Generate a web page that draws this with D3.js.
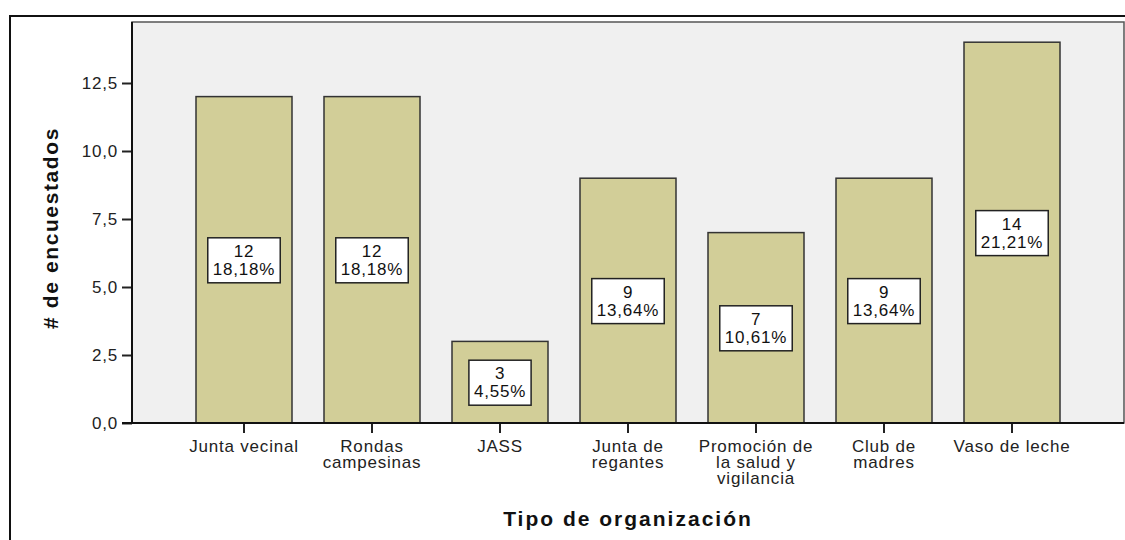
<!DOCTYPE html>
<html>
<head>
<meta charset="utf-8">
<script src="https://cdn.jsdelivr.net/npm/d3@7"></script>
<style>
  body { margin: 0; background: #fff; }
  svg { display: block; font-family: "Liberation Sans", Arial, sans-serif; }
</style>
</head>
<body>
<div id="chart"></div>
<script>
var width = 1125;
var height = 540;

// data
var categories = ["Junta vecinal", "Rondas campesinas", "JASS", "Junta de regantes",
    "Promoción de la salud y vigilancia", "Club de madres", "Vaso de leche"];
var tickLines = [["Junta vecinal"], ["Rondas", "campesinas"], ["JASS"], ["Junta de", "regantes"],
    ["Promoción de", "la salud y", "vigilancia"], ["Club de", "madres"], ["Vaso de leche"]];
var counts = [12, 12, 3, 9, 7, 9, 14];
var percents = ["18,18%", "18,18%", "4,55%", "13,64%", "10,61%", "13,64%", "21,21%"];
var yTicks = [0, 2.5, 5, 7.5, 10, 12.5];

var plot = { left: 132, top: 22, right: 1124, bottom: 423 };

var svg = d3.select("#chart").append("svg")
    .attr("width", width)
    .attr("height", height);

// outer frame (left and top edges visible)
svg.append("path")
    .attr("d", "M10,541V16H1126")
    .attr("fill", "none")
    .attr("stroke", "#111")
    .attr("stroke-width", 2);

var x = d3.scaleBand()
    .domain(categories)
    .range([plot.left, plot.right])
    .paddingInner(0.25)
    .paddingOuter(0.5);

var y = d3.scaleLinear()
    .domain([0, (plot.bottom - plot.top) / 27.2])
    .range([plot.bottom, plot.top]);

// plot background
svg.append("rect")
    .attr("x", plot.left)
    .attr("y", plot.top)
    .attr("width", plot.right - plot.left)
    .attr("height", plot.bottom - plot.top)
    .attr("fill", "#f0f0f0")
    .attr("stroke", "#555")
    .attr("stroke-width", 1.5);

// bars
svg.append("g").selectAll("rect")
    .data(categories)
    .enter().append("rect")
    .attr("x", function (d) { return x(d); })
    .attr("y", function (d, i) { return y(counts[i]); })
    .attr("width", x.bandwidth())
    .attr("height", function (d, i) { return y(0) - y(counts[i]); })
    .attr("fill", "#d2ce98")
    .attr("stroke", "#333")
    .attr("stroke-width", 1.5);

// y axis
var fmt = d3.format(".1f");
var yAxis = svg.append("g")
    .attr("transform", "translate(" + plot.left + ",0)")
    .call(d3.axisLeft(y).tickValues(yTicks).tickSize(10).tickPadding(4)
        .tickFormat(function (d) { return fmt(d).replace(".", ","); }));
yAxis.select(".domain").remove();
yAxis.selectAll("line").attr("stroke", "#222").attr("stroke-width", 2);
yAxis.selectAll("text")
    .attr("fill", "#222")
    .style("font-size", "17px")
    .style("letter-spacing", "0.8px")
    .style("font-family", "Liberation Sans, Arial, sans-serif");

// x axis
var xAxis = svg.append("g")
    .attr("transform", "translate(0," + plot.bottom + ")")
    .call(d3.axisBottom(x).tickSize(10).tickFormat(""));
xAxis.select(".domain").remove();
xAxis.selectAll("line").attr("stroke", "#222").attr("stroke-width", 2);

// axis lines on top of the frame
svg.append("line")
    .attr("x1", plot.left).attr("x2", plot.left)
    .attr("y1", plot.top).attr("y2", plot.bottom + 1)
    .attr("stroke", "#111").attr("stroke-width", 2);
svg.append("line")
    .attr("x1", plot.left - 10).attr("x2", plot.right)
    .attr("y1", plot.bottom).attr("y2", plot.bottom)
    .attr("stroke", "#111").attr("stroke-width", 2);

// category labels
var catLabels = svg.append("g").selectAll("text")
    .data(categories)
    .enter().append("text")
    .attr("text-anchor", "middle")
    .attr("fill", "#222")
    .style("font-size", "17px")
    .style("letter-spacing", "0.8px");
catLabels.each(function (d, i) {
    var t = d3.select(this);
    tickLines[i].forEach(function (line, j) {
        t.append("tspan")
            .attr("x", x(d) + x.bandwidth() / 2)
            .attr("y", 452 + j * 16)
            .text(line);
    });
});

// value boxes
var boxes = svg.append("g").selectAll("g")
    .data(categories)
    .enter().append("g")
    .attr("transform", function (d, i) {
        return "translate(" + (x(d) + x.bandwidth() / 2) + "," + y(counts[i] / 2) + ")";
    });
boxes.each(function (d, i) {
    var g = d3.select(this);
    var rect = g.append("rect");
    var t1 = g.append("text").attr("y", -3).text(counts[i]);
    var t2 = g.append("text").attr("y", 15).text(percents[i]);
    g.selectAll("text")
        .attr("text-anchor", "middle")
        .attr("fill", "#111")
        .style("font-size", "17px")
        .style("letter-spacing", "0.8px");
    var w = Math.max(t1.node().getComputedTextLength(), t2.node().getComputedTextLength()) + 10;
    rect.attr("x", -w / 2)
        .attr("y", -22)
        .attr("width", w)
        .attr("height", 45)
        .attr("fill", "#fff")
        .attr("stroke", "#222")
        .attr("stroke-width", 1.5);
});

// axis titles
svg.append("text")
    .attr("transform", "translate(58,228) rotate(-90)")
    .attr("text-anchor", "middle")
    .attr("fill", "#111")
    .style("font-size", "21px")
    .style("font-weight", "bold")
    .style("letter-spacing", "1.6px")
    .text("# de encuestados");

svg.append("text")
    .attr("x", (plot.left + plot.right) / 2)
    .attr("y", 526)
    .attr("text-anchor", "middle")
    .attr("fill", "#111")
    .style("font-size", "21px")
    .style("font-weight", "bold")
    .style("letter-spacing", "2px")
    .text("Tipo de organización");
</script>
</body>
</html>
